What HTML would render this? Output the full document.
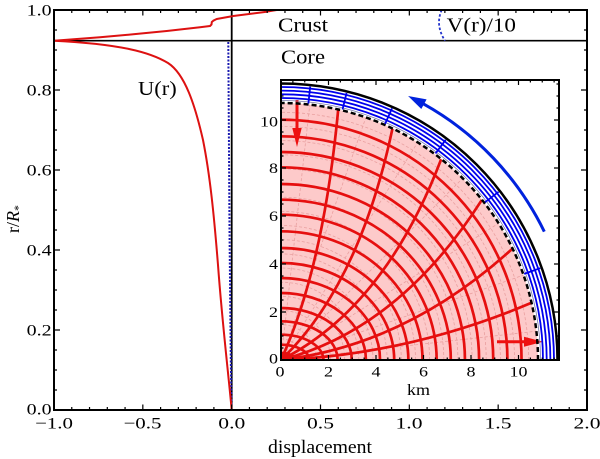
<!DOCTYPE html>
<html><head><meta charset="utf-8"><style>
html,body{margin:0;padding:0;background:#fff;}
svg{display:block;}
text{font-family:"Liberation Serif","DejaVu Serif",serif;fill:#000;}
</style></head><body>
<svg width="600" height="459" viewBox="0 0 600 459" xmlns="http://www.w3.org/2000/svg">
<defs>
<clipPath id="disk"><path d="M281,360 L538,360 A257,257 0 0 0 281,103 Z"/></clipPath>
</defs>
<rect width="600" height="459" fill="#fff"/>

<line x1="54" y1="40.7" x2="587" y2="40.7" stroke="#000" stroke-width="1.6"/>
<line x1="231.7" y1="10" x2="231.7" y2="410" stroke="#000" stroke-width="1.8"/>

<path d="M228.3,42 L229.5,230 L230.8,360 L231.5,405" fill="none" stroke="#1a1ab0" stroke-width="2" stroke-dasharray="2 1.5"/>
<path d="M441.7,10 Q435,25 445,40.7" fill="none" stroke="#2233cc" stroke-width="1.8" stroke-dasharray="2.5 2"/>

<path fill="none" stroke="#dd1111" stroke-width="2" d="M54,40.7 C120,44 150,52 168,63 C185,74 195,105 203,140 C210,175 214,215 218,265 C222,320 228,370 231.7,410"/>
<polyline fill="none" stroke="#dd1111" stroke-width="2" stroke-linejoin="round" points="54,40.7 100,37.3 133.3,34.3 166.7,31 200,27.3 210,26 211.5,24.5 211.8,22 213.3,20.7 216.7,19 233.3,16 266.7,11.7 276.7,10"/>

<g stroke="#000" stroke-width="1.2" fill="none">
<path d="M54,410v-5.5M71.77,410v-3M89.53,410v-3M107.3,410v-3M125.07,410v-3M142.83,410v-5.5M160.6,410v-3M178.37,410v-3M196.13,410v-3M213.9,410v-3M231.67,410v-5.5M249.43,410v-3M267.2,410v-3M284.97,410v-3M302.73,410v-3M320.5,410v-5.5M338.27,410v-3M356.03,410v-3M373.8,410v-3M391.57,410v-3M409.33,410v-5.5M427.1,410v-3M444.87,410v-3M462.63,410v-3M480.4,410v-3M498.17,410v-5.5M515.93,410v-3M533.7,410v-3M551.47,410v-3M569.23,410v-3M587,410v-5.5"/>
<path d="M54,10v5.5M71.77,10v3M89.53,10v3M107.3,10v3M125.07,10v3M142.83,10v5.5M160.6,10v3M178.37,10v3M196.13,10v3M213.9,10v3M231.67,10v5.5M249.43,10v3M267.2,10v3M284.97,10v3M302.73,10v3M320.5,10v5.5M338.27,10v3M356.03,10v3M373.8,10v3M391.57,10v3M409.33,10v5.5M427.1,10v3M444.87,10v3M462.63,10v3M480.4,10v3M498.17,10v5.5M515.93,10v3M533.7,10v3M551.47,10v3M569.23,10v3M587,10v5.5"/>
<path d="M54,410h6M54,390h3M54,370h3M54,350h3M54,330h6M54,310h3M54,290h3M54,270h3M54,250h6M54,230h3M54,210h3M54,190h3M54,170h6M54,150h3M54,130h3M54,110h3M54,90h6M54,70h3M54,50h3M54,30h3M54,10h6"/>
<path d="M587,410h-6M587,390h-3M587,370h-3M587,350h-3M587,330h-6M587,310h-3M587,290h-3M587,270h-3M587,250h-6M587,230h-3M587,210h-3M587,190h-3M587,170h-6M587,150h-3M587,130h-3M587,110h-3M587,90h-6M587,70h-3M587,50h-3M587,30h-3M587,10h-6"/>
</g>
<rect x="54" y="10" width="533" height="400" fill="none" stroke="#000" stroke-width="2"/>

<g font-size="16">
<text x="51.7" y="15.5" text-anchor="end" textLength="25" lengthAdjust="spacingAndGlyphs">1.0</text>
<text x="51.7" y="95.5" text-anchor="end" textLength="25" lengthAdjust="spacingAndGlyphs">0.8</text>
<text x="51.7" y="175.5" text-anchor="end" textLength="25" lengthAdjust="spacingAndGlyphs">0.6</text>
<text x="51.7" y="255.3" text-anchor="end" textLength="25" lengthAdjust="spacingAndGlyphs">0.4</text>
<text x="51.7" y="335.3" text-anchor="end" textLength="25" lengthAdjust="spacingAndGlyphs">0.2</text>
<text x="51.7" y="414.3" text-anchor="end" textLength="25" lengthAdjust="spacingAndGlyphs">0.0</text>
<text x="35" y="428.5" textLength="38" lengthAdjust="spacingAndGlyphs">−1.0</text>
<text x="123.5" y="428.5" textLength="38" lengthAdjust="spacingAndGlyphs">−0.5</text>
<text x="218.3" y="428.5" textLength="27" lengthAdjust="spacingAndGlyphs">0.0</text>
<text x="307" y="428.5" textLength="27" lengthAdjust="spacingAndGlyphs">0.5</text>
<text x="395.5" y="428.5" textLength="27" lengthAdjust="spacingAndGlyphs">1.0</text>
<text x="484.5" y="428.5" textLength="27" lengthAdjust="spacingAndGlyphs">1.5</text>
<text x="573.5" y="428.5" textLength="27" lengthAdjust="spacingAndGlyphs">2.0</text>
</g>
<text x="268" y="453" font-size="19" textLength="104" lengthAdjust="spacingAndGlyphs">displacement</text>
<text transform="translate(19,233) rotate(-90)" font-size="18">r/<tspan font-style="italic">R</tspan><tspan font-size="12" dy="3">*</tspan></text>

<text x="278" y="31.5" font-size="20" textLength="50" lengthAdjust="spacingAndGlyphs">Crust</text>
<text x="281" y="63.3" font-size="20" textLength="44" lengthAdjust="spacingAndGlyphs">Core</text>
<text x="446.7" y="31.5" font-size="20" textLength="69.3" lengthAdjust="spacingAndGlyphs">V(r)/10</text>
<text x="138" y="95" font-size="20" textLength="38.7" lengthAdjust="spacingAndGlyphs">U(r)</text>

<rect x="281" y="80" width="278" height="280" fill="#fff"/>
<path d="M281,360 L538,360 A257,257 0 0 0 281,103 Z" fill="#fdcaca"/>

<g clip-path="url(#disk)">
<g fill="none" stroke="#e9a0a0" stroke-width="0.8" stroke-dasharray="3 2">
<path d="M288.1,360A7.1,7.1 0 0 0 281,352.9"/>
<path d="M302.2,360A21.2,21.2 0 0 0 281,338.8"/>
<path d="M316.4,360A35.4,35.4 0 0 0 281,324.6"/>
<path d="M330.5,360A49.5,49.5 0 0 0 281,310.5"/>
<path d="M344.7,360A63.7,63.7 0 0 0 281,296.3"/>
<path d="M358.8,360A77.8,77.8 0 0 0 281,282.2"/>
<path d="M373,360A92,92 0 0 0 281,268"/>
<path d="M387.1,360A106.1,106.1 0 0 0 281,253.9"/>
<path d="M401.3,360A120.3,120.3 0 0 0 281,239.7"/>
<path d="M415.5,360A134.5,134.5 0 0 0 281,225.5"/>
<path d="M429.6,360A148.6,148.6 0 0 0 281,211.4"/>
<path d="M443.8,360A162.8,162.8 0 0 0 281,197.2"/>
<path d="M457.9,360A176.9,176.9 0 0 0 281,183.1"/>
<path d="M472.1,360A191.1,191.1 0 0 0 281,168.9"/>
<path d="M486.2,360A205.2,205.2 0 0 0 281,154.8"/>
<path d="M500.4,360A219.4,219.4 0 0 0 281,140.6"/>
<path d="M514.5,360A233.5,233.5 0 0 0 281,126.5"/>
<path d="M528.7,360A247.7,247.7 0 0 0 281,112.3"/>
<path d="M281,360L536.4,331.2M281,360L523.6,275.1M281,360L498.6,223.3M281,360L462.7,178.3M281,360L417.7,142.4M281,360L365.9,117.4M281,360L309.8,104.6"/>
</g>
<g fill="none" stroke="#e60f0f" stroke-width="2.7">
<path d="M295.15,360A14.15,7 0 0 0 281,353"/>
<path d="M309.3,360A28.3,15.3 0 0 0 281,344.7"/>
<path d="M323.45,360A42.45,25.3 0 0 0 281,334.7"/>
<path d="M337.6,360A56.6,38.7 0 0 0 281,321.3"/>
<path d="M351.75,360A70.75,52 0 0 0 281,308"/>
<path d="M365.9,360A84.9,67 0 0 0 281,293"/>
<path d="M380.05,360A99.05,82 0 0 0 281,278"/>
<path d="M394.2,360A113.2,97 0 0 0 281,263"/>
<path d="M408.35,360A127.35,112 0 0 0 281,248"/>
<path d="M422.5,360A141.5,128.7 0 0 0 281,231.3"/>
<path d="M436.65,360A155.65,145.3 0 0 0 281,214.7"/>
<path d="M450.8,360A169.8,160.3 0 0 0 281,199.7"/>
<path d="M464.95,360A183.95,176 0 0 0 281,184"/>
<path d="M479.1,360A198.1,192.7 0 0 0 281,167.3"/>
<path d="M493.25,360A212.25,208 0 0 0 281,152"/>
<path d="M507.4,360A226.4,223.7 0 0 0 281,136.3"/>
<path d="M521.55,360A240.55,240.3 0 0 0 281,119.7"/>
<path d="M281,360Q409.15,354.6 531.5,302.8"/>
<path d="M281,360Q406.4,345.15 512.6,248.5"/>
<path d="M281,360Q399.55,329.1 481.9,199.8"/>
<path d="M281,360Q384.7,307.75 441.2,159.1"/>
<path d="M281,360Q359.25,285.2 392.5,128.4"/>
<path d="M281,360Q323.4,267.65 338.2,109.5"/>
</g>
</g>

<line x1="297" y1="100" x2="297" y2="130" stroke="#ee1111" stroke-width="3"/>
<polygon points="292.3,128 301.7,128 297,147" fill="#ee1111"/>
<line x1="497" y1="341.7" x2="526" y2="341.7" stroke="#ee1111" stroke-width="3"/>
<polygon points="524,336.7 524,346.7 543,341.7" fill="#ee1111"/>

<path d="M538,360 A257,257 0 0 0 281,103" fill="none" stroke="#000" stroke-width="2.5" stroke-dasharray="5 3"/>
<path d="M540.5,360 A259.5,259.5 0 0 0 281,100.5" fill="none" stroke="#7777aa" stroke-width="0.8"/>
<g fill="none" stroke="#0000ee" stroke-width="1.8">
<path d="M543,360 A262,262 0 0 0 281,98"/>
<path d="M546.7,360 A265.7,265.7 0 0 0 281,94.3"/>
<path d="M550.4,360 A269.4,269.4 0 0 0 281,90.6"/>
<path d="M554,360 A273,273 0 0 0 281,87"/>
</g>
<path d="M557.5,360 A276.5,276.5 0 0 0 281,83.5" fill="none" stroke="#000" stroke-width="2.5"/>
<g stroke="#0000ee" stroke-width="1.8">
<line x1="524.2" y1="273.9" x2="540.2" y2="268.2"/>
<line x1="485.1" y1="202.2" x2="498.6" y2="191.8"/>
<line x1="435.5" y1="153.4" x2="445.7" y2="139.8"/>
<line x1="385.1" y1="123.9" x2="392.0" y2="108.4"/>
<line x1="342.5" y1="109.5" x2="346.6" y2="93.0"/>
<line x1="308.4" y1="103.5" x2="310.2" y2="86.6"/>
</g>
<path d="M544.3,231.6 A293,293 0 0 0 423.1,103.7" fill="none" stroke="#0022dd" stroke-width="3"/>
<polygon points="408.1,96.0 426.6,99.4 421.3,109.0" fill="#0022dd"/>

<g stroke="#000" stroke-width="1.2" fill="none">
<path d="M281,360v-5M292.88,360v-2.5M304.75,360v-2.5M316.63,360v-2.5M328.5,360v-5M340.38,360v-2.5M352.25,360v-2.5M364.13,360v-2.5M376,360v-5M387.88,360v-2.5M399.75,360v-2.5M411.63,360v-2.5M423.5,360v-5M435.38,360v-2.5M447.25,360v-2.5M459.13,360v-2.5M471,360v-5M482.88,360v-2.5M494.75,360v-2.5M506.63,360v-2.5M518.5,360v-5M530.38,360v-2.5M542.25,360v-2.5M554.13,360v-2.5"/>
<path d="M281,80v5M292.88,80v2.5M304.75,80v2.5M316.63,80v2.5M328.5,80v5M340.38,80v2.5M352.25,80v2.5M364.13,80v2.5M376,80v5M387.88,80v2.5M399.75,80v2.5M411.63,80v2.5M423.5,80v5M435.38,80v2.5M447.25,80v2.5M459.13,80v2.5M471,80v5M482.88,80v2.5M494.75,80v2.5M506.63,80v2.5M518.5,80v5M530.38,80v2.5M542.25,80v2.5M554.13,80v2.5"/>
<path d="M281,360h5M281,348h2.5M281,336h2.5M281,324h2.5M281,312h5M281,300h2.5M281,288h2.5M281,276h2.5M281,264h5M281,252h2.5M281,240h2.5M281,228h2.5M281,216h5M281,204h2.5M281,192h2.5M281,180h2.5M281,168h5M281,156h2.5M281,144h2.5M281,132h2.5M281,120h5M281,108h2.5M281,96h2.5M281,84h2.5"/>
<path d="M559,360h-5M559,348h-2.5M559,336h-2.5M559,324h-2.5M559,312h-5M559,300h-2.5M559,288h-2.5M559,276h-2.5M559,264h-5M559,252h-2.5M559,240h-2.5M559,228h-2.5M559,216h-5M559,204h-2.5M559,192h-2.5M559,180h-2.5M559,168h-5M559,156h-2.5M559,144h-2.5M559,132h-2.5M559,120h-5M559,108h-2.5M559,96h-2.5M559,84h-2.5"/>
</g>
<rect x="281" y="80" width="278" height="280" fill="none" stroke="#000" stroke-width="2"/>

<g font-size="15">
<text x="278" y="363.5" text-anchor="end" textLength="9" lengthAdjust="spacingAndGlyphs">0</text>
<text x="278" y="317" text-anchor="end" textLength="9" lengthAdjust="spacingAndGlyphs">2</text>
<text x="278" y="269" text-anchor="end" textLength="9" lengthAdjust="spacingAndGlyphs">4</text>
<text x="278" y="221" text-anchor="end" textLength="9" lengthAdjust="spacingAndGlyphs">6</text>
<text x="278" y="173" text-anchor="end" textLength="9" lengthAdjust="spacingAndGlyphs">8</text>
<text x="278" y="126.5" text-anchor="end" textLength="18" lengthAdjust="spacingAndGlyphs">10</text>
<text x="275.5" y="376.7" textLength="9" lengthAdjust="spacingAndGlyphs">0</text>
<text x="324" y="376.7" textLength="9" lengthAdjust="spacingAndGlyphs">2</text>
<text x="371.5" y="376.7" textLength="9" lengthAdjust="spacingAndGlyphs">4</text>
<text x="419" y="376.7" textLength="9" lengthAdjust="spacingAndGlyphs">6</text>
<text x="466.5" y="376.7" textLength="9" lengthAdjust="spacingAndGlyphs">8</text>
<text x="509.5" y="376.7" textLength="18" lengthAdjust="spacingAndGlyphs">10</text>
<text x="407" y="395" font-size="16" textLength="23" lengthAdjust="spacingAndGlyphs">km</text>
</g>
</svg>
</body></html>
